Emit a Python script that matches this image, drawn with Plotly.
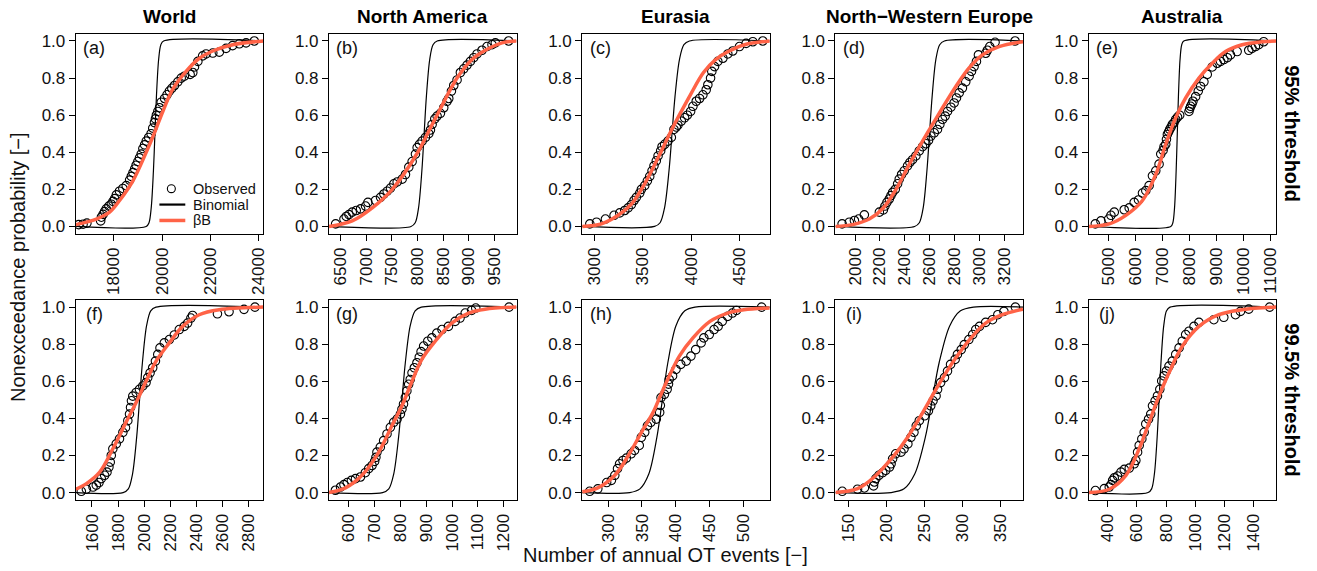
import plotly.graph_objects as go

# ---------------- data ----------------
REGIONS = ["World", "North America", "Eurasia", "North\u2212Western Europe", "Australia"]
ROW_LABELS = ["95% threshold", "99.5% threshold"]
PANEL_TAGS = ["(a)", "(b)", "(c)", "(d)", "(e)", "(f)", "(g)", "(h)", "(i)", "(j)"]

# observed empirical nonexceedance points
OBS_X_A = [16540,16720,16880,17450,17480,17550,17610,17680,17790,17890,17960,18030,18100,18230,18370,18510,18650,18720,18790,18860,18920,18990,19060,19130,19200,19270,19340,19440,19540,19610,19680,19720,19760,19820,19890,19960,20100,20200,20300,20400,20510,20650,20790,20920,21160,21270,21340,21480,21680,21820,22100,22370,22650,22920,23200,23480,23820]
OBS_Y_A = [0.010,0.012,0.018,0.030,0.050,0.065,0.080,0.095,0.110,0.120,0.135,0.150,0.170,0.190,0.205,0.220,0.250,0.270,0.290,0.310,0.330,0.350,0.370,0.390,0.420,0.440,0.460,0.480,0.500,0.530,0.560,0.580,0.600,0.620,0.640,0.670,0.690,0.710,0.730,0.745,0.760,0.780,0.800,0.810,0.820,0.830,0.860,0.890,0.920,0.930,0.935,0.940,0.960,0.975,0.985,0.990,1.000]

OBS_X_B = [6403,6565,6610,6662,6727,6805,6890,6987,7033,7182,7279,7344,7409,7474,7539,7604,7701,7766,7831,7896,7961,7994,8039,8091,8156,8221,8253,8286,8338,8383,8448,8513,8578,8611,8663,8708,8773,8838,8903,8968,9033,9098,9163,9260,9357,9455,9520,9780]
OBS_Y_B = [0.014,0.040,0.054,0.064,0.077,0.086,0.095,0.110,0.130,0.140,0.157,0.175,0.190,0.207,0.230,0.240,0.255,0.280,0.320,0.350,0.390,0.425,0.443,0.460,0.480,0.500,0.520,0.550,0.580,0.595,0.610,0.640,0.675,0.690,0.730,0.760,0.790,0.830,0.850,0.870,0.890,0.910,0.930,0.950,0.970,0.980,0.990,1.000]

OBS_X_C = [2952,3021,3113,3202,3261,3312,3347,3381,3408,3432,3467,3484,3518,3546,3570,3594,3614,3638,3656,3683,3697,3724,3758,3793,3820,3844,3861,3896,3930,3958,3992,4016,4050,4085,4119,4153,4170,4198,4211,4239,4273,4325,4376,4427,4496,4565,4634,4737]
OBS_Y_C = [0.014,0.023,0.040,0.060,0.073,0.086,0.100,0.118,0.140,0.157,0.180,0.200,0.220,0.246,0.270,0.300,0.327,0.354,0.380,0.407,0.430,0.443,0.460,0.480,0.523,0.536,0.546,0.568,0.586,0.600,0.620,0.648,0.675,0.690,0.710,0.737,0.764,0.800,0.836,0.862,0.890,0.907,0.930,0.946,0.970,0.987,0.996,1.000]

OBS_X_D = [1896,1954,1995,2029,2075,2196,2228,2241,2257,2276,2289,2303,2324,2343,2356,2375,2396,2423,2442,2463,2490,2517,2544,2571,2592,2611,2638,2664,2683,2705,2726,2745,2772,2798,2817,2839,2865,2892,2919,2938,2959,2978,2994,3053,3066,3085,3128,3289]
OBS_Y_D = [0.014,0.023,0.032,0.040,0.0625,0.077,0.089,0.110,0.130,0.148,0.166,0.184,0.200,0.230,0.255,0.280,0.300,0.327,0.345,0.360,0.380,0.407,0.430,0.446,0.464,0.4875,0.505,0.523,0.550,0.577,0.595,0.620,0.643,0.666,0.693,0.720,0.746,0.780,0.810,0.836,0.862,0.890,0.925,0.934,0.950,0.970,0.993,1.000]

OBS_X_E = [4521,4730,5012,5098,5221,5589,5773,5957,6117,6264,6387,6509,6632,6755,6877,6939,7025,7060,7123,7150,7184,7230,7270,7320,7368,7430,7491,7560,7638,7982,8010,8043,8090,8129,8227,8325,8411,8534,8657,8841,9025,9150,9270,9400,9515,9761,10190,10310,10436,10560,10742]
OBS_Y_E = [0.014,0.030,0.040,0.060,0.077,0.090,0.100,0.130,0.143,0.180,0.193,0.220,0.273,0.300,0.336,0.390,0.410,0.430,0.443,0.470,0.496,0.510,0.523,0.535,0.550,0.560,0.577,0.590,0.600,0.620,0.635,0.648,0.660,0.675,0.700,0.730,0.755,0.780,0.820,0.860,0.880,0.890,0.900,0.910,0.925,0.943,0.950,0.960,0.970,0.980,0.996]

OBS_X_F = [1518,1557,1608,1633,1654,1671,1697,1715,1730,1740,1748,1760,1786,1811,1837,1857,1875,1888,1896,1903,1913,1939,1964,1990,2015,2028,2046,2066,2087,2105,2122,2155,2194,2232,2270,2308,2334,2359,2372,2563,2652,2767,2851]
OBS_Y_F = [0.007,0.018,0.030,0.040,0.054,0.075,0.093,0.110,0.1375,0.164,0.200,0.236,0.2625,0.290,0.325,0.350,0.3875,0.423,0.459,0.495,0.520,0.540,0.557,0.575,0.593,0.620,0.646,0.673,0.709,0.745,0.780,0.807,0.825,0.850,0.879,0.896,0.914,0.941,0.955,0.964,0.975,0.988,1.000]

OBS_X_G = [548,568,581,594,610,626,645,664,677,690,700,705,709,722,735,748,761,774,787,800,806,812,819,825,832,838,845,854,864,873,880,890,906,922,941,961,986,1012,1031,1051,1076,1092,1221]
OBS_Y_G = [0.0125,0.030,0.043,0.054,0.066,0.075,0.084,0.107,0.129,0.146,0.168,0.190,0.218,0.245,0.280,0.316,0.352,0.379,0.396,0.423,0.450,0.477,0.5125,0.548,0.584,0.610,0.646,0.673,0.700,0.730,0.760,0.790,0.816,0.834,0.860,0.879,0.896,0.923,0.941,0.968,0.982,0.995,1.000]

OBS_X_H = [273,285,298,305,310,314,317,322,327,334,339,346,349,354,358,363,371,376,377,378,383,387,389,390,395,400,407,415,422,429,437,441,449,456,462,468,476,483,489,526]
OBS_Y_H = [0.007,0.020,0.054,0.066,0.093,0.129,0.155,0.173,0.186,0.209,0.227,0.254,0.298,0.325,0.360,0.379,0.396,0.432,0.470,0.5125,0.530,0.557,0.585,0.610,0.629,0.664,0.691,0.709,0.736,0.771,0.807,0.834,0.852,0.879,0.896,0.923,0.950,0.968,0.982,1.000]

OBS_X_I = [142,162,171,183,184,186,190,195,199,204,206,208,212,219,223,228,232,236,239,243,250,255,258,261,265,267,271,276,280,284,290,293,298,302,308,313,317,322,330,339,346,354,369]
OBS_Y_I = [0.007,0.018,0.025,0.036,0.057,0.075,0.093,0.107,0.120,0.1375,0.155,0.182,0.209,0.218,0.236,0.2625,0.298,0.325,0.360,0.3875,0.414,0.441,0.468,0.495,0.521,0.557,0.593,0.620,0.655,0.691,0.718,0.745,0.771,0.798,0.825,0.852,0.879,0.896,0.918,0.932,0.959,0.977,1.000]

OBS_X_J = [316,377,411,423,434,445,468,491,514,548,582,593,605,616,634,650,661,680,695,707,725,741,757,770,786,802,820,843,866,889,911,934,957,991,1025,1127,1195,1275,1309,1366,1509]
OBS_Y_J = [0.011,0.021,0.030,0.043,0.066,0.079,0.089,0.110,0.125,0.132,0.155,0.173,0.218,0.254,0.289,0.325,0.370,0.396,0.423,0.468,0.495,0.521,0.557,0.602,0.629,0.655,0.682,0.709,0.745,0.780,0.816,0.852,0.870,0.896,0.918,0.932,0.945,0.959,0.977,0.989,1.000]

# fitted beta-binomial (betaB) CDF
BB_X_A = [16415,17269,17821,18234,18786,19338,19682,20027,20441,20992,21544,22096,22923,24194]
BB_Y_A = [0.010,0.040,0.077,0.140,0.246,0.400,0.505,0.620,0.740,0.836,0.907,0.946,0.980,1.000]
BB_X_B = [6272,6727,7117,7507,8007,8195,8383,8773,9065,9325,9650,9934]
BB_Y_B = [0.000,0.030,0.100,0.200,0.400,0.500,0.600,0.800,0.900,0.950,0.990,1.000]
BB_X_C = [2873,3072,3244,3381,3518,3656,3776,3875,3990,4125,4250,4380,4548,4809]
BB_Y_C = [0.000,0.014,0.060,0.120,0.230,0.370,0.500,0.600,0.710,0.830,0.900,0.943,0.980,1.000]
BB_X_D = [1842,1981,2115,2222,2330,2437,2544,2624,2705,2812,2919,3026,3160,3353]
BB_Y_D = [0.000,0.010,0.040,0.095,0.200,0.335,0.460,0.550,0.640,0.755,0.855,0.925,0.970,0.996]
BB_X_E = [4276,5037,5650,6264,6755,7123,7491,7859,8350,8841,9331,9945,10681,11206]
BB_Y_E = [0.000,0.014,0.060,0.140,0.280,0.443,0.586,0.693,0.800,0.880,0.943,0.980,0.996,1.000]
BB_X_F = [1475,1557,1659,1760,1862,1939,2015,2092,2194,2296,2423,2576,2915]
BB_Y_F = [0.018,0.048,0.110,0.236,0.380,0.486,0.600,0.709,0.807,0.896,0.959,0.986,1.000]
BB_X_G = [523,587,651,716,767,806,845,883,935,999,1064,1128,1250]
BB_Y_G = [0.000,0.025,0.093,0.218,0.360,0.468,0.600,0.718,0.816,0.914,0.968,0.989,1.000]
BB_X_H = [262,285,310,330,350,366,378,391,405,425,450,476,500,538]
BB_Y_H = [0.004,0.025,0.093,0.200,0.330,0.430,0.530,0.635,0.736,0.834,0.923,0.968,0.986,0.995]
BB_X_I = [133,162,184,210,228,243,257,274,291,309,330,352,379]
BB_Y_I = [0.000,0.021,0.084,0.200,0.300,0.400,0.500,0.620,0.727,0.825,0.914,0.959,0.989]
BB_X_J = [270,411,525,616,684,752,820,911,1025,1161,1320,1554]
BB_Y_J = [0.000,0.018,0.093,0.236,0.379,0.521,0.646,0.789,0.896,0.959,0.986,1.000]

# binomial CDF, x read at these probability levels
BIN_P = [0.0, 0.02, 0.1, 0.3, 0.5, 0.7, 0.9, 0.98, 1.0]
BIN_X_A = [19340,19454,19546,19638,19700,19762,19854,19946,20060]
BIN_X_B = [7875,7956,8021,8086,8130,8174,8239,8304,8385]
BIN_X_C = [3620,3677,3723,3769,3800,3831,3877,3923,3980]
BIN_X_D = [2480,2518,2549,2579,2600,2621,2651,2682,2720]
BIN_X_E = [7310,7386,7448,7508,7550,7592,7652,7714,7790]
BIN_X_F = [1839,1879,1911,1943,1965,1987,2019,2051,2091]
BIN_X_G = [731,755,774,793,806,819,838,857,881]
BIN_X_H = [332,347,360,372,380,388,400,413,428]
BIN_X_I = [206,223,237,251,260,269,283,297,314]
BIN_X_J = [677,701,720,739,752,765,784,803,827]

# axis ticks
XTICKS_A = [18000, 20000, 22000, 24000]
XTICKS_B = [6500, 7000, 7500, 8000, 8500, 9000, 9500]
XTICKS_C = [3000, 3500, 4000, 4500]
XTICKS_D = [2000, 2200, 2400, 2600, 2800, 3000, 3200]
XTICKS_E = [5000, 6000, 7000, 8000, 9000, 10000, 11000]
XTICKS_F = [1600, 1800, 2000, 2200, 2400, 2600, 2800]
XTICKS_G = [600, 700, 800, 900, 1000, 1100, 1200]
XTICKS_H = [300, 350, 400, 450, 500]
XTICKS_I = [150, 200, 250, 300, 350]
XTICKS_J = [400, 600, 800, 1000, 1200, 1400]
YTICKS = [0.0, 0.2, 0.4, 0.6, 0.8, 1.0]

# ---------------- layout settings ----------------
W, H = 1317, 571
XRANGES = [[16415, 24194], [6272, 9934], [2873, 4809], [1842, 3353], [4275, 11206],
           [1475, 2915], [523, 1250], [262, 538], [133, 379], [270, 1554]]
YRANGE = [-0.04, 1.04]
PANEL_LEFT_PX = [76, 330.2, 584.4, 838.6, 1092.8]
PANEL_W_PX = 188.3
ROW_TOP_PX = [31.8, 299.8]
ROW_BOT_PX = [233.5, 501.5]
FONT = "Liberation Sans, Arial, Helvetica, sans-serif"
ORANGE = "#FF6347"

OBS = [(OBS_X_A, OBS_Y_A), (OBS_X_B, OBS_Y_B), (OBS_X_C, OBS_Y_C), (OBS_X_D, OBS_Y_D), (OBS_X_E, OBS_Y_E),
       (OBS_X_F, OBS_Y_F), (OBS_X_G, OBS_Y_G), (OBS_X_H, OBS_Y_H), (OBS_X_I, OBS_Y_I), (OBS_X_J, OBS_Y_J)]
BB = [(BB_X_A, BB_Y_A), (BB_X_B, BB_Y_B), (BB_X_C, BB_Y_C), (BB_X_D, BB_Y_D), (BB_X_E, BB_Y_E),
      (BB_X_F, BB_Y_F), (BB_X_G, BB_Y_G), (BB_X_H, BB_Y_H), (BB_X_I, BB_Y_I), (BB_X_J, BB_Y_J)]
BIN = [BIN_X_A, BIN_X_B, BIN_X_C, BIN_X_D, BIN_X_E, BIN_X_F, BIN_X_G, BIN_X_H, BIN_X_I, BIN_X_J]
XTICKS = [XTICKS_A, XTICKS_B, XTICKS_C, XTICKS_D, XTICKS_E, XTICKS_F, XTICKS_G, XTICKS_H, XTICKS_I, XTICKS_J]

for ox, oy in OBS:
    assert len(ox) == len(oy)
for bx, by in BB:
    assert len(bx) == len(by)
for bx in BIN:
    assert len(bx) == len(BIN_P)


def px_x(p):
    return p / W


def px_y(p):
    return 1 - p / H


fig = go.Figure()
layout = dict()

for i in range(10):
    k = i + 1
    row, col = divmod(i, 5)
    xa = "x" if k == 1 else f"x{k}"
    ya = "y" if k == 1 else f"y{k}"
    xr = XRANGES[i]

    ox, oy = OBS[i]
    fig.add_trace(go.Scatter(
        x=ox, y=oy, mode="markers", xaxis=xa, yaxis=ya, showlegend=False,
        marker=dict(symbol="circle-open", size=8.5, color="black", line=dict(width=1.1, color="black")),
    ))
    fig.add_trace(go.Scatter(
        x=[xr[0]] + BIN[i] + [xr[1]], y=[0.0] + BIN_P + [1.0], mode="lines",
        xaxis=xa, yaxis=ya, showlegend=False,
        line=dict(color="black", width=1.2, shape="spline", smoothing=0.9),
    ))
    bx, by = BB[i]
    fig.add_trace(go.Scatter(
        x=bx, y=by, mode="lines", xaxis=xa, yaxis=ya, showlegend=False,
        line=dict(color=ORANGE, width=3.5, shape="spline", smoothing=1.0),
    ))

    left = PANEL_LEFT_PX[col]
    xdom = [px_x(left), px_x(left + PANEL_W_PX)]
    ydom = [px_y(ROW_BOT_PX[row]), px_y(ROW_TOP_PX[row])]
    common = dict(showline=True, linecolor="black", linewidth=1, mirror=True,
                  ticks="outside", ticklen=6, tickwidth=1, tickcolor="black",
                  showgrid=False, zeroline=False,
                  tickfont=dict(family=FONT, size=17, color="#111111"))
    layout["xaxis" if k == 1 else f"xaxis{k}"] = dict(
        domain=xdom, anchor=ya, range=xr, tickmode="array",
        tickvals=XTICKS[i], ticktext=[str(v) for v in XTICKS[i]], tickangle=-90, **common)
    layout["yaxis" if k == 1 else f"yaxis{k}"] = dict(
        domain=ydom, anchor=xa, range=YRANGE, tickmode="array",
        tickvals=YTICKS, ticktext=[f"{v:.1f}" for v in YTICKS], **common)

annotations = []
# column titles
for c, name in enumerate(REGIONS):
    cx = PANEL_LEFT_PX[c] + PANEL_W_PX / 2
    annotations.append(dict(text=f"<b>{name}</b>", x=px_x(cx), y=px_y(15), xref="paper", yref="paper",
                            showarrow=False, xanchor="center", yanchor="middle",
                            font=dict(family=FONT, size=19, color="black")))
# panel tags
for i, tag in enumerate(PANEL_TAGS):
    row, col = divmod(i, 5)
    annotations.append(dict(text=tag, x=px_x(PANEL_LEFT_PX[col] + 18.5), y=px_y(ROW_TOP_PX[row] + 14.5),
                            xref="paper", yref="paper", showarrow=False, xanchor="center", yanchor="middle",
                            font=dict(family=FONT, size=18, color="#111111")))
# row labels
for r, lab in enumerate(ROW_LABELS):
    cy = (ROW_TOP_PX[r] + ROW_BOT_PX[r]) / 2
    annotations.append(dict(text=f"<b>{lab}</b>", x=px_x(1297.5), y=px_y(cy), xref="paper", yref="paper",
                            showarrow=False, textangle=90, xanchor="center", yanchor="middle",
                            font=dict(family=FONT, size=20, color="black")))
# axis titles
annotations.append(dict(text="Nonexceedance probability [\u2212]", x=px_x(18), y=px_y(267),
                        xref="paper", yref="paper", showarrow=False, textangle=-90,
                        xanchor="center", yanchor="middle", font=dict(family=FONT, size=20, color="#111111")))
annotations.append(dict(text="Number of annual OT events [\u2212]", x=px_x(668), y=px_y(557),
                        xref="paper", yref="paper", showarrow=False,
                        xanchor="center", yanchor="middle", font=dict(family=FONT, size=20, color="#111111")))

# legend inside panel (a)
LEG_TEXT = ["Observed", "Binomial", "\u03b2B"]
LEG_Y = [188, 204, 220]
for t, yy in zip(LEG_TEXT, LEG_Y):
    annotations.append(dict(text=t, x=px_x(193), y=px_y(yy), xref="paper", yref="paper", showarrow=False,
                            xanchor="left", yanchor="middle", borderpad=0,
                            font=dict(family=FONT, size=14.5, color="#111111")))
shapes = [
    dict(type="circle", xref="paper", yref="paper", x0=px_x(168), x1=px_x(176), y0=px_y(192), y1=px_y(184),
         line=dict(color="black", width=1.1)),
    dict(type="line", xref="paper", yref="paper", x0=px_x(160), x1=px_x(186), y0=px_y(204), y1=px_y(204),
         line=dict(color="black", width=2.2)),
    dict(type="line", xref="paper", yref="paper", x0=px_x(160), x1=px_x(186), y0=px_y(220), y1=px_y(220),
         line=dict(color=ORANGE, width=3.5)),
]

fig.update_layout(
    width=W, height=H, autosize=False,
    margin=dict(l=0, r=0, t=0, b=0, pad=0),
    paper_bgcolor="white", plot_bgcolor="white",
    showlegend=False,
    font=dict(family=FONT, color="#111111"),
    annotations=annotations, shapes=shapes,
    **layout,
)

fig.write_html("out.html", config={"displayModeBar": False},
               post_script="document.body.style.margin='0';")
